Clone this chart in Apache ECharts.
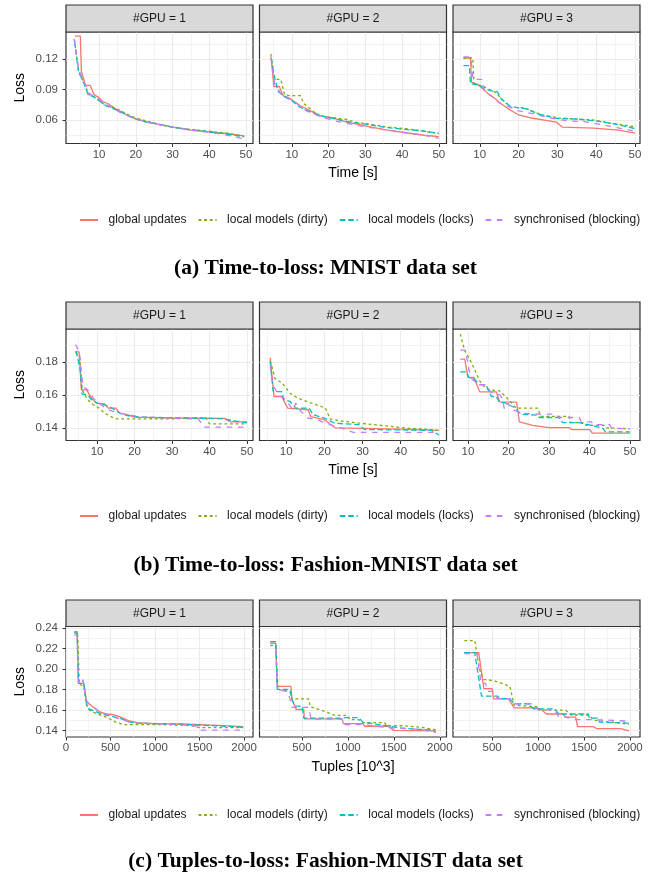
<!DOCTYPE html>
<html>
<head>
<meta charset="utf-8">
<script src="https://cdn.jsdelivr.net/npm/echarts@6/dist/echarts.min.js"></script>
<style>
  html, body { margin: 0; padding: 0; background: #ffffff; }
  #chart { width: 651px; height: 874px; }
</style>
</head>
<body>
<div id="chart"></div>
<script>
  const seriesNames = ['global updates', 'local models (dirty)', 'local models (locks)', 'synchronised (blocking)'];
  const gpuLabels = ['#GPU = 1', '#GPU = 2', '#GPU = 3'];
  const captions = ['(a) Time-to-loss: MNIST data set', '(b) Time-to-loss: Fashion-MNIST data set', '(c) Tuples-to-loss: Fashion-MNIST data set'];
  const xTitles = ['Time [s]', 'Time [s]', 'Tuples [10^3]'];

  // tick values
  const timeTicks = [10, 20, 30, 40, 50];
  const timeMinor = [5, 15, 25, 35, 45];
  const tupleTicks = [0, 500, 1000, 1500, 2000];
  const tupleMinor = [250, 750, 1250, 1750];
  const lossTicksA = [0.06, 0.09, 0.12];
  const lossMinorA = [0.045, 0.075, 0.105, 0.135];
  const lossTicksB = [0.14, 0.16, 0.18];
  const lossMinorB = [0.15, 0.17, 0.19];
  const lossTicksC = [0.14, 0.16, 0.18, 0.20, 0.22, 0.24];
  const lossMinorC = [0.15, 0.17, 0.19, 0.21, 0.23];

  // (a) MNIST, time -> loss
  const a1Global = [[3.4,0.1425],[4.9,0.1425],[5.2,0.108],[6.3,0.094],[7.6,0.094],[8.6,0.085],[10,0.082],[11,0.078],[12.5,0.076],[14,0.072],[16,0.068],[18,0.064],[20,0.061],[23,0.058],[26,0.056],[30,0.053],[35,0.05],[40,0.048],[45,0.0465],[49.5,0.0445]];
  const a1Dirty = [[3.3,0.139],[4.4,0.108],[6,0.096],[7.2,0.085],[8.5,0.083],[10,0.079],[12,0.074],[14,0.0725],[16,0.069],[18,0.065],[20,0.062],[23,0.059],[26,0.056],[30,0.053],[35,0.0505],[40,0.049],[45,0.047],[49.5,0.044]];
  const a1Locks = [[3.3,0.138],[4.4,0.108],[6,0.095],[7,0.085],[8.5,0.083],[10,0.079],[12,0.074],[14,0.071],[16,0.068],[18,0.064],[20,0.061],[23,0.058],[26,0.056],[30,0.053],[35,0.0505],[40,0.0485],[45,0.046],[49.5,0.0435]];
  const a1Blocking = [[3.2,0.14],[4.5,0.109],[6,0.097],[7.3,0.086],[9,0.083],[10.5,0.079],[12,0.075],[14,0.071],[16,0.067],[18,0.064],[20,0.0615],[23,0.058],[26,0.0555],[30,0.053],[35,0.05],[40,0.048],[45,0.045],[49.5,0.0415]];
  const a2Global = [[4.4,0.12],[5.1,0.093],[6.6,0.093],[7.6,0.084],[10,0.08],[12.3,0.074],[15.6,0.068],[18,0.064],[21,0.062],[25,0.058],[31,0.0535],[36,0.05],[42,0.047],[46,0.045],[50,0.0436]];
  const a2Dirty = [[4.3,0.125],[5.2,0.1],[7,0.1],[8,0.085],[9.5,0.084],[12.3,0.084],[13.3,0.076],[15,0.071],[17,0.065],[19,0.063],[22,0.062],[25,0.0605],[27,0.058],[31,0.056],[36,0.053],[41,0.0515],[46,0.049],[50,0.0465]];
  const a2Locks = [[4.4,0.121],[5.4,0.1],[6.3,0.088],[8,0.083],[10,0.079],[12,0.073],[15,0.068],[18,0.064],[22,0.061],[26,0.058],[30,0.056],[35,0.053],[40,0.051],[45,0.0495],[50,0.047]];
  const a2Blocking = [[4.3,0.122],[5.3,0.096],[7,0.086],[9,0.082],[11,0.077],[14,0.069],[18,0.063],[22,0.059],[28,0.0545],[35,0.0505],[42,0.047],[46,0.045],[50,0.042]];
  const a3Global = [[5.8,0.121],[7.6,0.121],[7.9,0.097],[9.5,0.095],[11,0.09],[12.4,0.085],[14,0.081],[15.1,0.077],[17.2,0.0715],[20,0.065],[23.2,0.062],[27.5,0.0595],[29.7,0.058],[31.3,0.053],[39.3,0.052],[45.8,0.05],[50,0.047]];
  const a3Dirty = [[5.8,0.121],[8.2,0.121],[8.5,0.096],[11,0.093],[12.5,0.09],[14.2,0.087],[15.8,0.08],[18,0.0725],[21.7,0.072],[24,0.068],[26,0.065],[30.4,0.062],[34.9,0.061],[39.3,0.06],[43.6,0.057],[50,0.0535]];
  const a3Locks = [[5.8,0.1135],[7.3,0.1135],[7.6,0.096],[10,0.094],[12.5,0.089],[14.5,0.088],[15.5,0.081],[18,0.073],[22,0.071],[25,0.066],[30,0.0615],[35,0.061],[40,0.059],[45,0.056],[50,0.0515]];
  const a3Blocking = [[5.8,0.122],[7.7,0.122],[8.2,0.1],[10.5,0.1],[11.2,0.088],[13,0.084],[15,0.077],[17,0.074],[20,0.069],[24,0.066],[28,0.062],[33,0.059],[37,0.0585],[42,0.055],[46,0.052],[50,0.049]];

  // (b) Fashion-MNIST, time -> loss
  const b1Global = [[4.2,0.186],[5.2,0.186],[5.8,0.163],[7.2,0.163],[8.5,0.158],[10,0.155],[12,0.1545],[13,0.152],[15,0.152],[16,0.149],[18,0.148],[20,0.1465],[30,0.146],[44,0.1458],[45.5,0.1437],[50,0.1437]];
  const b1Dirty = [[4.3,0.1855],[5.4,0.182],[6,0.163],[7.5,0.157],[9,0.154],[10.5,0.152],[12,0.149],[14,0.1465],[15,0.1455],[30,0.1455],[36,0.146],[39,0.146],[40,0.1425],[50,0.1425]];
  const b1Locks = [[4.4,0.1865],[5.5,0.175],[6,0.1605],[7.5,0.16],[8.5,0.157],[10,0.155],[12,0.154],[14,0.152],[16,0.149],[18,0.1475],[22,0.1465],[35,0.146],[44,0.1455],[46,0.1445],[50,0.143]];
  const b1Blocking = [[4.3,0.1905],[5.3,0.185],[6.2,0.165],[7.5,0.163],[9,0.158],[11,0.154],[13,0.151],[15,0.1495],[18,0.148],[22,0.1465],[30,0.146],[34,0.1455],[37,0.1455],[38.5,0.1405],[50,0.1405]];
  const b2Global = [[5.8,0.1825],[6.3,0.1825],[6.8,0.159],[8.8,0.159],[10.4,0.152],[15.8,0.151],[16.4,0.1468],[20,0.145],[22.9,0.14],[30,0.1397],[40,0.1393],[50,0.1385]];
  const b2Dirty = [[5.8,0.1805],[6.5,0.175],[7,0.17],[9,0.167],[11,0.161],[13,0.158],[16.6,0.155],[20.3,0.152],[21.5,0.1455],[25,0.144],[28.8,0.143],[33,0.142],[37,0.141],[42,0.1398],[46.5,0.1392],[50,0.1385]];
  const b2Locks = [[5.8,0.18],[6.6,0.162],[8.8,0.162],[9.4,0.157],[11,0.156],[12.5,0.152],[16,0.152],[17,0.148],[20,0.146],[22.7,0.1428],[29,0.142],[30.5,0.139],[40,0.1388],[48,0.1385],[50,0.1358]];
  const b2Blocking = [[5.8,0.178],[6.5,0.166],[8,0.16],[10,0.157],[11.7,0.151],[12.5,0.155],[13.5,0.151],[15.6,0.146],[18,0.145],[21.5,0.142],[25,0.1395],[27.6,0.1373],[45,0.1373],[50,0.1373]];
  const b3Global = [[8.1,0.1816],[9.2,0.1816],[10,0.1705],[11.5,0.1705],[12.9,0.1618],[17,0.1618],[17.8,0.1558],[22,0.1556],[22.7,0.1436],[26,0.1416],[30,0.1402],[35,0.1402],[35.6,0.139],[40.1,0.139],[40.7,0.1368],[50,0.1368]];
  const b3Dirty = [[8.1,0.1968],[9.2,0.1867],[10.5,0.181],[11.5,0.176],[12.9,0.1685],[14,0.165],[15.3,0.163],[17.8,0.1624],[19.3,0.159],[20.7,0.1553],[21.9,0.152],[27.2,0.152],[28,0.147],[35,0.147],[35.4,0.1432],[38.7,0.1432],[39.2,0.1416],[43.6,0.1416],[44.2,0.14],[50,0.1395]];
  const b3Locks = [[8.1,0.1739],[9.6,0.1739],[10.2,0.1705],[11.6,0.1695],[12.9,0.166],[14.5,0.166],[15.3,0.1614],[15.8,0.159],[17,0.159],[17.8,0.1553],[19,0.1553],[21.5,0.1523],[23.1,0.1483],[27.2,0.1477],[27.6,0.1463],[32.5,0.1463],[33.4,0.1432],[37.5,0.1432],[40,0.1418],[43.2,0.14],[44,0.1376],[50,0.1376]];
  const b3Blocking = [[8.1,0.187],[9.4,0.187],[10.2,0.1756],[11,0.1695],[12.5,0.1665],[14.5,0.166],[15.7,0.1614],[17.8,0.16],[18.5,0.158],[19,0.1513],[19.8,0.155],[21,0.151],[23.5,0.1489],[27.6,0.1483],[31.7,0.1483],[32.5,0.1463],[37.5,0.1463],[38,0.1436],[40.5,0.1436],[41,0.142],[45,0.142],[45.5,0.1396],[50,0.1396]];

  // (c) Fashion-MNIST, tuples -> loss
  const c1Global = [[93,0.2365],[125,0.2365],[140,0.186],[200,0.186],[230,0.168],[300,0.163],[380,0.158],[450,0.156],[520,0.1555],[600,0.1535],[700,0.1495],[800,0.1475],[1000,0.1465],[1300,0.1462],[1700,0.1449],[1720,0.1436],[1990,0.1436]];
  const c1Dirty = [[93,0.236],[130,0.236],[150,0.185],[200,0.183],[230,0.165],[260,0.16],[350,0.156],[450,0.153],[560,0.148],[650,0.1455],[800,0.1455],[1100,0.1455],[1400,0.1448],[1500,0.1426],[1990,0.1426]];
  const c1Locks = [[93,0.235],[125,0.235],[140,0.186],[200,0.186],[230,0.166],[255,0.161],[320,0.159],[400,0.156],[500,0.154],[600,0.152],[700,0.1485],[800,0.147],[1000,0.1465],[1300,0.146],[1500,0.145],[1700,0.1445],[1990,0.143]];
  const c1Blocking = [[93,0.233],[125,0.233],[140,0.186],[180,0.186],[190,0.1895],[210,0.1895],[235,0.168],[300,0.163],[400,0.157],[500,0.1545],[600,0.151],[700,0.1485],[800,0.147],[1000,0.1465],[1200,0.1458],[1450,0.1445],[1500,0.1403],[1990,0.1403]];
  const c2Global = [[155,0.2252],[215,0.2252],[231,0.183],[380,0.183],[391,0.1708],[437,0.1604],[520,0.1604],[525,0.1513],[936,0.1513],[950,0.1465],[1163,0.1465],[1180,0.144],[1435,0.144],[1500,0.14],[1956,0.1395]];
  const c2Dirty = [[155,0.223],[215,0.223],[240,0.18],[370,0.178],[391,0.1708],[573,0.1708],[590,0.163],[700,0.16],[862,0.1546],[1000,0.1546],[1020,0.1505],[1117,0.1505],[1163,0.1475],[1400,0.1475],[1420,0.1445],[1600,0.1445],[1620,0.143],[1800,0.143],[1956,0.1405]];
  const c2Locks = [[155,0.2267],[215,0.2267],[231,0.18],[370,0.18],[391,0.17],[420,0.1636],[500,0.1636],[520,0.152],[936,0.152],[981,0.1525],[1117,0.1525],[1163,0.148],[1300,0.146],[1570,0.1425],[1753,0.141],[1900,0.1405],[1956,0.1383]];
  const c2Blocking = [[155,0.225],[215,0.225],[231,0.18],[350,0.178],[370,0.17],[391,0.1625],[573,0.1625],[600,0.151],[936,0.151],[950,0.1456],[1163,0.1456],[1300,0.144],[1550,0.142],[1800,0.141],[1956,0.138]];
  const c3Global = [[198,0.216],[355,0.216],[410,0.1808],[500,0.1808],[515,0.1708],[680,0.1708],[740,0.162],[990,0.162],[1040,0.16],[1090,0.156],[1270,0.156],[1300,0.153],[1410,0.153],[1430,0.1436],[1600,0.1436],[1640,0.1417],[1900,0.1417],[1990,0.1395]];
  const c3Dirty = [[198,0.2277],[311,0.2277],[365,0.1992],[410,0.1895],[450,0.1895],[540,0.188],[694,0.183],[740,0.1646],[760,0.163],[1000,0.163],[1010,0.1597],[1300,0.1597],[1360,0.155],[1560,0.155],[1600,0.15],[1850,0.1475],[1990,0.146]];
  const c3Locks = [[198,0.216],[311,0.216],[385,0.1735],[560,0.1735],[580,0.171],[694,0.171],[740,0.166],[900,0.166],[950,0.161],[1180,0.161],[1225,0.156],[1545,0.156],[1560,0.152],[1650,0.152],[1670,0.148],[1990,0.147]];
  const c3Blocking = [[198,0.215],[335,0.215],[380,0.186],[430,0.186],[450,0.178],[520,0.178],[560,0.171],[694,0.171],[740,0.166],[940,0.166],[1000,0.16],[1180,0.16],[1225,0.1532],[1300,0.1532],[1400,0.1505],[1600,0.1505],[1990,0.149]];

  const rows = [
    {
      panels: [[a1Global, a1Dirty, a1Locks, a1Blocking], [a2Global, a2Dirty, a2Locks, a2Blocking], [a3Global, a3Dirty, a3Locks, a3Blocking]],
      xTicks: timeTicks, xMinor: timeMinor, yTicks: lossTicksA, yMinor: lossMinorA,
      xRanges: [[1.0, 51.9], [1.2, 52.1], [3.1, 51.3]], yRange: [0.0369, 0.1466],
    },
    {
      panels: [[b1Global, b1Dirty, b1Locks, b1Blocking], [b2Global, b2Dirty, b2Locks, b2Blocking], [b3Global, b3Dirty, b3Locks, b3Blocking]],
      xTicks: timeTicks, xMinor: timeMinor, yTicks: lossTicksB, yMinor: lossMinorB,
      xRanges: [[1.7, 51.6], [3.0, 52.0], [6.3, 52.5]], yRange: [0.1324, 0.1998],
    },
    {
      panels: [[c1Global, c1Dirty, c1Locks, c1Blocking], [c2Global, c2Dirty, c2Locks, c2Blocking], [c3Global, c3Dirty, c3Locks, c3Blocking]],
      xTicks: tupleTicks, xMinor: tupleMinor, yTicks: lossTicksC, yMinor: lossMinorC,
      xRanges: [[0, 2100], [38, 2073], [75, 2109]], yRange: [0.1335, 0.2415],
    },
  ];

  const font = 'Liberation Sans, Arial, sans-serif';
  const colors = ['#F8766D', '#7CAE00', '#00BFC4', '#C77CFF'];
  const dashes = ['solid', [2.8, 2.8], [5.6, 2.8], [5.6, 5.6]];
  const colLeft = [66, 259.5, 453];
  const panelW = 187;
  const rowTop = [32, 329, 626.5];
  const rowH = [111.5, 111.5, 110.5];
  const stripTop = [5, 302, 600];
  const legendTop = [209, 505, 804];
  const captionTop = [252, 549, 845];

  const grid = [];
  const xAxis = [];
  const yAxis = [];
  const series = [];
  const graphic = [];
  const legend = [];
  const title = [];

  const majorLine = { show: true, lineStyle: { color: '#EBEBEB', width: 1.1 } };
  const minorLine = { show: true, lineStyle: { color: '#EBEBEB', width: 0.6 } };

  rows.forEach((row, r) => {
    for (let c = 0; c < 3; c++) {
      const k = r * 3 + c;
      grid.push({
        left: colLeft[c], top: rowTop[r], width: panelW, height: rowH[r],
        show: true, borderColor: '#333333', borderWidth: 1.2, backgroundColor: '#ffffff',
        containLabel: false, outerBoundsMode: 'none',
      });
      const xr = row.xRanges[c];
      xAxis.push({
        type: 'value', gridIndex: k, min: xr[0], max: xr[1], position: 'bottom',
        axisLine: { show: false },
        axisTick: { show: true, length: 3.5, customValues: row.xTicks, lineStyle: { color: '#333333', width: 1 } },
        axisLabel: {
          customValues: row.xTicks, color: '#4D4D4D', fontSize: 11.5, fontFamily: font, margin: 5,
          formatter: (v) => String(v),
        },
        splitLine: majorLine,
        name: c === 1 ? xTitles[r] : '',
        nameLocation: 'middle', nameGap: 23,
        nameTextStyle: { fontSize: 14, color: '#000000', fontFamily: font },
      });
      xAxis.push({
        type: 'value', gridIndex: k, min: xr[0], max: xr[1], position: 'bottom',
        axisLine: { show: false },
        axisTick: { show: false, customValues: row.xMinor },
        axisLabel: { show: false },
        splitLine: minorLine,
      });
      yAxis.push({
        type: 'value', gridIndex: k, min: row.yRange[0], max: row.yRange[1], position: 'left',
        axisLine: { show: false },
        axisTick: { show: c === 0, length: 3.5, customValues: row.yTicks, lineStyle: { color: '#333333', width: 1 } },
        axisLabel: {
          show: c === 0, customValues: row.yTicks, color: '#4D4D4D', fontSize: 11.5, fontFamily: font, margin: 8,
          formatter: (v) => v.toFixed(2),
        },
        splitLine: majorLine,
        name: c === 0 ? 'Loss' : '',
        nameLocation: 'middle', nameGap: 39, nameRotate: 90,
        nameTextStyle: { fontSize: 14, color: '#000000', fontFamily: font },
      });
      yAxis.push({
        type: 'value', gridIndex: k, min: row.yRange[0], max: row.yRange[1], position: 'left',
        axisLine: { show: false },
        axisTick: { show: false, customValues: row.yMinor },
        axisLabel: { show: false },
        splitLine: minorLine,
      });

      row.panels[c].forEach((data, s) => {
        series.push({
          type: 'line',
          name: seriesNames[s],
          xAxisIndex: 2 * k,
          yAxisIndex: 2 * k,
          data: data,
          symbol: 'none',
          silent: true,
          z: 2 + s,
          itemStyle: { color: colors[s] },
          lineStyle: { color: colors[s], width: 1.3, type: dashes[s] },
        });
      });

      // facet strip
      graphic.push({
        type: 'rect',
        shape: { x: colLeft[c], y: stripTop[r], width: panelW, height: rowTop[r] - stripTop[r] },
        style: { fill: '#D9D9D9', stroke: '#333333', lineWidth: 1.2 },
        z: 100,
      });
      graphic.push({
        type: 'text',
        x: colLeft[c] + panelW / 2,
        y: (stripTop[r] + rowTop[r]) / 2,
        style: {
          text: gpuLabels[c], textAlign: 'center', textVerticalAlign: 'middle',
          fontSize: 12, fontFamily: font, fill: '#1A1A1A',
        },
        z: 101,
      });
    }

    legend.push({
      data: seriesNames,
      left: 74,
      top: legendTop[r],
      itemWidth: 18,
      itemHeight: 10,
      itemGap: 11,
      selectedMode: false,
      itemStyle: { opacity: 0 },
      textStyle: { fontSize: 12, color: '#1A1A1A', fontFamily: font, padding: [0, 0, 0, 5.5] },
    });

    title.push({
      text: captions[r],
      left: 'center',
      top: captionTop[r],
      textStyle: { fontFamily: 'Liberation Serif, Times New Roman, serif', fontWeight: 'bold', fontSize: 21.5, color: '#000000' },
    });
  });

  const myChart = echarts.init(document.getElementById('chart'));
  myChart.setOption({
    animation: false,
    backgroundColor: '#ffffff',
    title: title,
    legend: legend,
    grid: grid,
    xAxis: xAxis,
    yAxis: yAxis,
    series: series,
    graphic: graphic,
  });
</script>
</body>
</html>
